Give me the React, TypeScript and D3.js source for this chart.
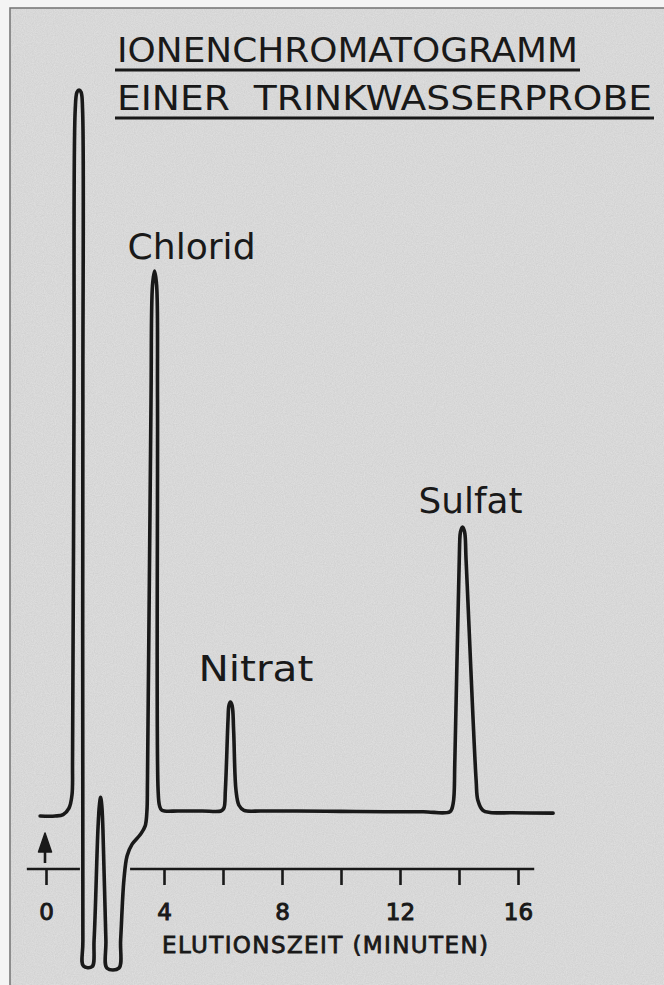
import React, { useEffect, useRef } from 'react'
import * as d3 from 'd3'

// detector trace
// time in minutes, signal in % of the injection peak height
const times = [
  -0.2, 0.31, 0.58, 0.78, 0.88, 0.9, 0.95, 0.99, 1.05, 1.12, 1.19, 1.24, 1.25, 1.25, 1.27,
  1.56, 1.63, 1.76, 1.81, 1.85, 1.89, 1.93, 2.03, 2.07, 2.47, 2.53, 2.64, 2.75, 2.92, 3.19,
  3.36, 3.42, 3.44, 3.56, 3.61, 3.68, 3.75, 3.78, 3.8, 3.85, 3.93, 4.5, 5.3, 5.93, 6.03, 6.08, 6.17,
  6.2, 6.25, 6.31, 6.36, 6.44, 6.54, 6.71, 7.3, 8.5, 10, 11.5, 12.8, 13.69, 13.8, 13.86, 14.02, 14.05, 14.12, 14.19,
  14.24, 14.58, 14.64, 14.81, 15.05, 15.8, 17.19
]
const signal = [
  -0.7, -0.7, -0.5, 0.4, 2.2, 7.1, 57, 97.2, 99.7, 100, 99.7, 97.2, 57, -17.9, -21.5,
  -21.6, -17.9, -2.6, 0.8, 1.9, 0.8, -2.6, -17.9, -21.8, -21.8, -17.9, -9.6, -6.2, -4.6, -3.3,
  -2.1, -0.1, 4.3, 57, 72.9, 74.9, 72.9, 57, 2.9, 0.7, 0.1, 0, 0, 0, 0.4, 2.9, 12.6,
  14.6, 15.1, 14.6, 11.2, 2.9, 0.8, 0.1, 0, 0, -0.05, -0.1, -0.1, -0.1, 1.0, 7.1, 36.9, 38.7, 39.4, 38.7,
  34.8, 4.3, 1.5, 0.1, -0.2, -0.25, -0.3
]

const peakNames = ['Chlorid', 'Nitrat', 'Sulfat']
const peakTimes = [3.68, 6.25, 14.12]
const peakHeights = [74.9, 15.1, 39.4]

const tickValues = [0, 4, 6, 8, 10, 12, 14, 16]
const tickLabels = [0, 4, 8, 12, 16]
// the axis is broken where the trace crosses it
const axisSegments = [[-0.65, 1.15], [2.85, 16.55]]

const titleLines = ['IONENCHROMATOGRAMM', 'EINER  TRINKWASSERPROBE']
const axisTitle = 'ELUTIONSZEIT (MINUTEN)'

const ink = '#191919'
const font = '"DejaVu Sans", Verdana, sans-serif'

const Chromatogram = () => {
  const ref = useRef(null)

  useEffect(() => {
    const width = 664, height = 985
    const svg = d3.select(ref.current)
    svg.selectAll('*').remove()
    svg.attr('width', width).attr('height', height)

    var x = d3.scaleLinear().domain([0, 16]).range([46, 518])
    var y = d3.scaleLinear().domain([0, 100]).range([811, 90])

    // paper
    svg.append('rect').attr('width', width).attr('height', height).attr('fill', '#f4f4f4')
    const defs = svg.append('defs')
    const f = defs.append('filter').attr('id', 'paper').attr('x', 0).attr('y', 0).attr('width', 1).attr('height', 1)
    f.append('feTurbulence').attr('type', 'fractalNoise').attr('baseFrequency', 0.9).attr('numOctaves', 2).attr('seed', 4)
    f.append('feColorMatrix').attr('type', 'matrix')
      .attr('values', '0 0 0 0 0  0 0 0 0 0  0 0 0 0 0  0 0 0 0.09 0')
    svg.append('rect').attr('x', 10).attr('y', 8).attr('width', width).attr('height', height)
      .attr('fill', '#e2e2e2').attr('stroke', '#707070').attr('stroke-width', 1.5)
    svg.append('rect').attr('x', 11).attr('y', 9).attr('width', width).attr('height', height)
      .attr('filter', 'url(#paper)')

    // title
    const titleLengths = [461, 535]
    titleLines.forEach((t, i) => {
      svg.append('text')
        .attr('x', 117).attr('y', 62 + i * 48)
        .attr('font-family', font).attr('font-size', 33)
        .attr('fill', ink)
        .attr('textLength', titleLengths[i]).attr('lengthAdjust', 'spacingAndGlyphs')
        .style('white-space', 'pre')
        .text(t)
      svg.append('line')
        .attr('x1', 115).attr('x2', 117 + titleLengths[i] + 2)
        .attr('y1', 70 + i * 48).attr('y2', 70 + i * 48)
        .attr('stroke', ink).attr('stroke-width', 3)
    })

    // axis
    const axisY = 869
    const ax = svg.append('g')
      .attr('transform', 'translate(0,' + axisY + ')')
      .call(d3.axisBottom(x).tickValues(tickValues).tickSize(16).tickPadding(19)
        .tickFormat(d => (tickLabels.includes(+d) ? String(d) : '')))
    ax.select('.domain').remove()
    ax.selectAll('.tick line').attr('stroke', ink).attr('stroke-width', 2.6)
    ax.selectAll('.tick text').attr('font-family', font).attr('font-size', 23)
      .attr('fill', ink).attr('stroke', ink).attr('stroke-width', 1)

    axisSegments.forEach(s => {
      svg.append('line')
        .attr('x1', x(s[0])).attr('x2', x(s[1]))
        .attr('y1', axisY).attr('y2', axisY)
        .attr('stroke', ink).attr('stroke-width', 2.6)
    })

    // injection marker
    const x0 = x(0) - 1
    svg.append('line').attr('x1', x0).attr('x2', x0).attr('y1', 863).attr('y2', 848)
      .attr('stroke', ink).attr('stroke-width', 2.6)
    svg.append('path')
      .attr('d', `M${x0},833 L${x0 + 6.5},852 L${x0 - 6.5},852 Z`)
      .attr('fill', ink).attr('stroke', ink).attr('stroke-width', 1.5).attr('stroke-linejoin', 'round')

    svg.append('text')
      .attr('x', 162).attr('y', 953)
      .attr('font-family', font).attr('font-size', 23).attr('fill', ink)
      .attr('stroke', ink).attr('stroke-width', 0.8)
      .attr('textLength', 326).attr('lengthAdjust', 'spacing')
      .style('white-space', 'pre')
      .text(axisTitle)

    // trace
    const pts = times.map((t, i) => [t, signal[i]])
    const line = d3.line()
      .x(d => x(d[0]))
      .y(d => y(d[1]))
      .curve(d3.curveCatmullRom.alpha(0.5))
    svg.append('path')
      .datum(pts)
      .attr('d', line)
      .attr('fill', 'none')
      .attr('stroke', ink)
      .attr('stroke-width', 3.6)
      .attr('stroke-linejoin', 'round')
      .attr('stroke-linecap', 'round')

    // peak labels
    const labelDx = [-27, -32, -44]
    const labelLen = [128, 115, 104]
    const labelGap = [12, 21, 14]
    peakNames.forEach((n, i) => {
      svg.append('text')
        .attr('x', x(peakTimes[i]) + labelDx[i])
        .attr('y', y(peakHeights[i]) - labelGap[i])
        .attr('font-family', font).attr('font-size', 36).attr('fill', ink)
        .attr('textLength', labelLen[i]).attr('lengthAdjust', 'spacingAndGlyphs')
        .text(n)
    })
  })

  return <svg ref={ref} style={{ position: 'absolute', left: 0, top: 0, display: 'block' }}></svg>
}

export default function App() {
  return <Chromatogram />
}
